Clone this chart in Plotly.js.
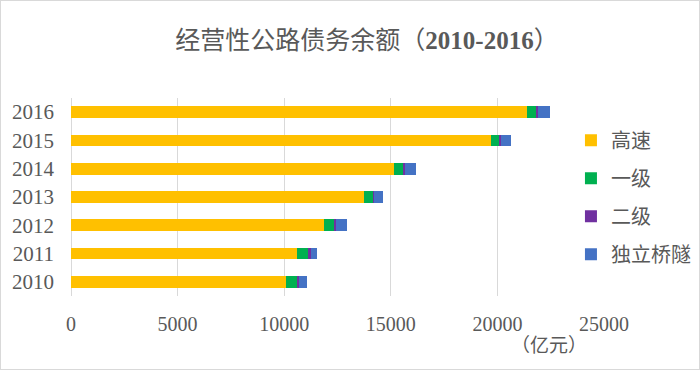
<!DOCTYPE html>
<html>
<head>
<meta charset="utf-8">
<script src="https://cdn.plot.ly/plotly-3.0.1.min.js"></script>
<style>
html,body{margin:0;padding:0;background:#fff;}
#chart{width:700px;height:370px;box-sizing:border-box;border:1px solid #d9d9d9;}
</style>
</head>
<body>
<div id="chart"></div>
<script>
var years = ['2010','2011','2012','2013','2014','2015','2016'];
var gaosu = [10070, 10610, 11860, 13740, 15160, 19700, 21410];
var yiji = [515, 515, 455, 405, 410, 375, 410];
var erji = [105, 110, 120, 80, 95, 80, 80];
var qiaosui = [375, 310, 515, 395, 515, 500, 545];
var seriesNames = ['高速', '一级', '二级', '独立桥隧'];
var seriesColors = ['#FFC000', '#00B050', '#7030A0', '#4472C4'];
var seriesData = [gaosu, yiji, erji, qiaosui];
var xTicks = [0, 5000, 10000, 15000, 20000, 25000];

var traces = seriesData.map(function(d, i){
  return {
    type: 'bar', orientation: 'h',
    x: d, y: years, name: seriesNames[i],
    legendgroup: 'g' + i,
    marker: {color: seriesColors[i]},
    hoverinfo: 'x+y+name'
  };
});

var serif = '"Liberation Serif", "Times New Roman", "Noto Sans CJK SC", serif';
var layout = {
  width: 698, height: 368,
  margin: {l: 70, r: 95, t: 97, b: 73, autoexpand: false},
  paper_bgcolor: '#fff', plot_bgcolor: '#fff',
  barmode: 'stack', bargap: 0.59,
  title: {
    text: '经营性公路债务余额（<b>2010-2016</b>）',
    font: {family: serif, size: 25, color: '#595959'},
    x: 366/698, xref: 'container', xanchor: 'center',
    y: 1 - 39/368, yref: 'container', yanchor: 'middle'
  },
  xaxis: {
    range: [0, 25000], tickvals: xTicks, ticktext: xTicks.map(String),
    showgrid: true, gridcolor: '#d9d9d9', gridwidth: 1,
    zeroline: true, zerolinecolor: '#d9d9d9',
    showline: false, ticks: '', ticklabelstandoff: 14,
    tickfont: {family: serif, size: 20, color: '#595959'},
    fixedrange: true
  },
  yaxis: {
    type: 'category', categoryorder: 'array', categoryarray: years,
    showgrid: false, zeroline: false, showline: false, ticks: '',
    ticklabelstandoff: 16,
    tickfont: {family: serif, size: 21, color: '#595959'},
    fixedrange: true
  },
  legend: {
    x: 0.938, xanchor: 'left', y: 0.885, yanchor: 'top',
    traceorder: 'grouped', tracegroupgap: 9,
    bgcolor: 'rgba(0,0,0,0)',
    font: {family: '"Noto Sans CJK SC", sans-serif', size: 20, color: '#595959'}
  },
  annotations: [{
    text: '（亿元）', xref: 'paper', yref: 'paper',
    x: (548 - 70)/533, y: (295 - 342) / 198,
    xanchor: 'center', yanchor: 'middle', showarrow: false,
    font: {family: '"Noto Sans CJK SC", sans-serif', size: 19, color: '#595959'}
  }],
  showlegend: true
};
Plotly.newPlot('chart', traces, layout, {displayModeBar: false, staticPlot: true});
</script>
</body>
</html>
